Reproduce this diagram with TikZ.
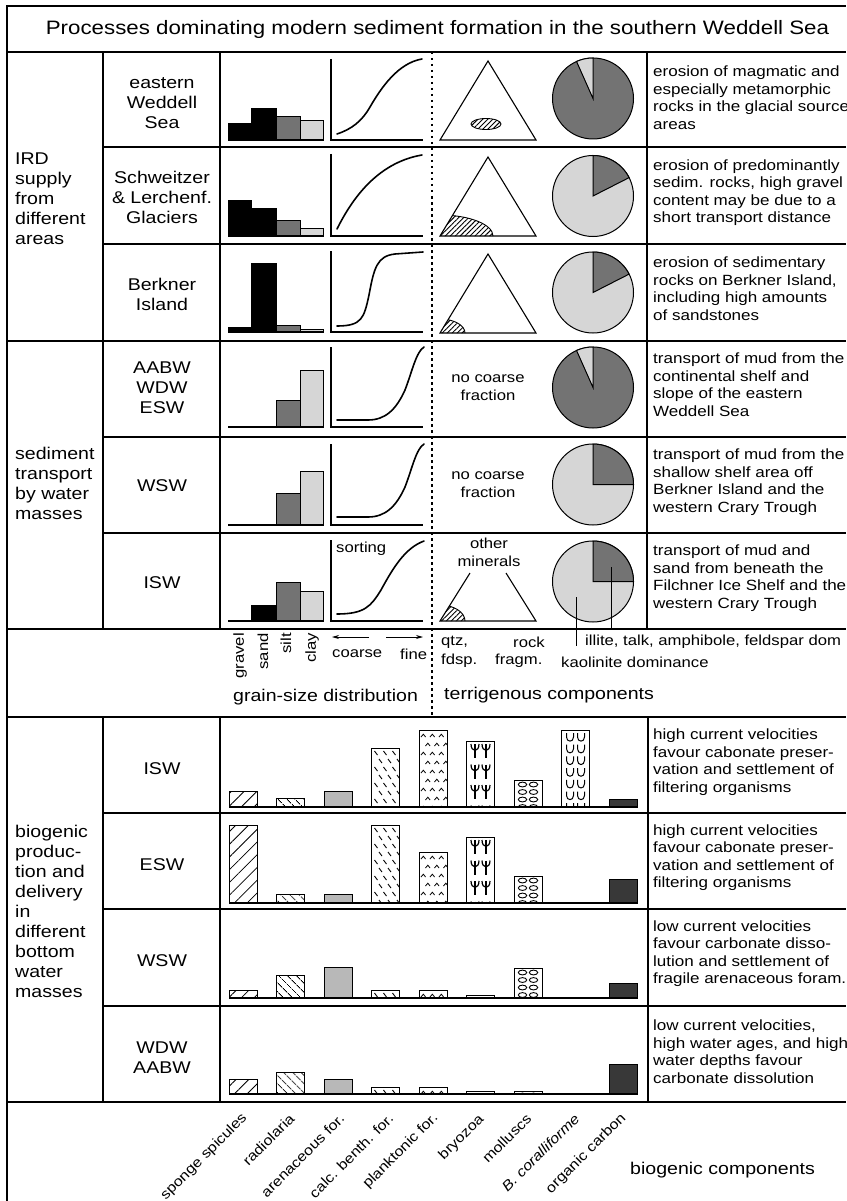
\documentclass[tikz,border=0pt]{standalone}
\usepackage{fontspec}
\setmainfont{Liberation Sans}[FakeStretch=1.15]
\usetikzlibrary{arrows.meta,patterns.meta}
\definecolor{dk}{gray}{0.45}
\definecolor{lt}{gray}{0.84}
\tikzset{
  frame/.style={line width=1.2pt},
  dotline/.style={line width=1.2pt, dash pattern=on 2.5pt off 3.5pt},
  bigtxt/.style={font=\fontsize{17}{20}\selectfont, inner sep=0pt, execute at begin node=\strut, execute at end node=\strut},
  lefttxt/.style={bigtxt, align=left, anchor=west},
  midtxt/.style={bigtxt, align=center},
  smalltxt/.style={font=\fontsize{14.5}{17.5}\selectfont, inner sep=0pt},
  righttxt/.style={font=\fontsize{14.8}{17.5}\selectfont, inner sep=0pt, align=left, anchor=west, execute at begin node=\strut, execute at end node=\strut},
  gsbar/.style={draw, line width=0.9pt},
  curve/.style={line width=1.6pt, line cap=round},
  axisline/.style={line width=1.1pt},
  triline/.style={line width=1.1pt, line join=miter},
  hatchfill/.style={pattern={Lines[angle=45,distance=3.5pt,line width=0.9pt]}},
  pieline/.style={line width=1pt},
  rotlbl/.style={font=\fontsize{14}{17}\selectfont, inner sep=0pt, rotate=45, anchor=east},
}
\newcommand\gsRow[5]{%
  \filldraw[gsbar, fill=black] (228,#2) rectangle (251,#1);
  \filldraw[gsbar, fill=black] (251,#3) rectangle (276,#1);
  \filldraw[gsbar, fill=dk] (276,#4) rectangle (300,#1);
  \filldraw[gsbar, fill=lt] (300,#5) rectangle (323,#1);
  \draw[line width=1.3pt] (228,#1) -- (323,#1);
}
\newcommand\curveAxes[2]{\draw[axisline] (331,#1) -- (331,#2) -- (423,#2);}
\newcommand\pieBase[3]{\filldraw[pieline, fill=#3] (#1,#2) circle[radius=40.5pt];}
\newcommand\pieWedge[5]{%
  \filldraw[pieline, fill=#5] (#1,#2) -- plot[domain=#3:#4, samples=20] ({#1+40.5*cos(\x)},{#2-40.5*sin(\x)}) -- cycle;}
\newcommand\bioBar[4]{%
  \begin{scope}
  \clip (#2,#3) rectangle (#2+28,#4);
  \ifcase#1\relax
    \fill[pattern={Lines[angle=45,distance=9pt,line width=0.8pt]}] (#2,#3) rectangle (#2+28,#4);
  \or
    \fill[pattern={Lines[angle=-45,distance=6.5pt,line width=0.9pt]}] (#2,#3) rectangle (#2+28,#4);
  \or
    \fill[black!28] (#2,#3) rectangle (#2+28,#4);
  \or
    \foreach \j in {0,...,10} {\foreach \k in {0,1,2} {
      \draw[line width=0.9pt] ({#2+3+9*\k+4.5*mod(\j,2)},{#3+3+8*\j}) -- ++(3,4);}}
  \or
    \foreach \j in {0,...,9} {\foreach \k in {0,1,2} {
      \draw[line width=0.8pt] ({#2+2+9*\k+4.5*mod(\j,2)},{#3+7+9*\j}) -- ++(2.3,-2.8) -- ++(2.3,2.8);}}
  \or
    \foreach \j in {0,...,4} {\foreach \k in {0,1} {
      \pgfmathsetmacro\cx{#2+8.5+11*\k}\pgfmathsetmacro\cy{#3+3+20.5*\j}
      \draw[line width=1.2pt] (\cx-4,\cy) .. controls (\cx-4,\cy+8.5) and (\cx+4,\cy+8.5) .. (\cx+4,\cy);
      \draw[line width=1.2pt] (\cx,\cy) -- (\cx,\cy+14);}}
  \or
    \foreach \j in {0,...,5} {\foreach \k in {0,1} {
      \draw[line width=0.9pt] ({#2+8.5+11*\k},{#3+4.5+7.5*\j}) ellipse[x radius=4.2pt, y radius=2.4pt];}}
  \or
    \foreach \j in {0,...,7} {\foreach \k in {0,1} {
      \pgfmathsetmacro\cx{#2+8.5+11*\k}\pgfmathsetmacro\cy{#3+3+11.7*\j}
      \draw[line width=1pt] (\cx-3.5,\cy) -- (\cx-3.5,\cy+4) .. controls (\cx-3.5,\cy+9.5) and (\cx+3.5,\cy+9.5) .. (\cx+3.5,\cy+4) -- (\cx+3.5,\cy);}}
  \or
    \fill[black!78] (#2,#3) rectangle (#2+28,#4);
  \fi
  \end{scope}
  \draw[line width=0.9pt] (#2,#3) rectangle (#2+28,#4);
}
\begin{document}
\begin{tikzpicture}[x=1pt,y=-1pt]
\useasboundingbox (0,0) rectangle (846,1201);
\fill[white] (0,0) rectangle (846,1201);

% ---------- frame ----------
\draw[frame] (7,1201) -- (7,6) -- (846,6);
\draw[frame] (7,52) -- (846,52);
\foreach \y in {147,244,437,533,813,909,1006} \draw[frame] (103,\y) -- (846,\y);
\foreach \y in {341,629,717,1102} \draw[frame] (7,\y) -- (846,\y);
\foreach \x in {103,220} {\draw[frame] (\x,52) -- (\x,629); \draw[frame] (\x,717) -- (\x,1102);}
\draw[frame] (647,52) -- (647,629);
\draw[frame] (648,717) -- (648,1102);
\draw[dotline] (432,52) -- (432,717);

% ---------- title ----------
\node[font=\fontsize{19.4}{22}\selectfont, inner sep=0pt] (title) at (437.5,29)
  {Processes dominating modern sediment formation in the southern Weddell Sea};

% ---------- left column ----------
\node[lefttxt] (ird) at (15,201.4) {IRD\\supply\\from\\different\\areas};
\node[lefttxt] (sedtr) at (15,486) {sediment\\transport\\by water\\masses};
\node[lefttxt] (bioprod) at (15,914) {biogenic\\produc-\\tion and\\delivery\\in\\different\\bottom\\water\\masses};

% ---------- middle column ----------
\node[midtxt] (m1) at (162,106) {eastern\\Weddell\\Sea};
\node[midtxt] (m2) at (162,200) {Schweitzer\\\& Lerchenf.\\Glaciers};
\node[midtxt] (m3) at (162,297) {Berkner\\Island};
\node[midtxt] (m4) at (162,391) {AABW\\WDW\\ESW};
\node[midtxt] (m5) at (162,487) {WSW};
\node[midtxt] (m6) at (162,584) {ISW};
\node[midtxt] (b1) at (162,770) {ISW};
\node[midtxt] (b2) at (162,866) {ESW};
\node[midtxt] (b3) at (162,962) {WSW};
\node[midtxt] (b4) at (162,1061) {WDW\\AABW};

% ---------- grain-size bars ----------
\gsRow{140}{123}{108}{116}{120}
\gsRow{236}{200}{208}{220}{228}
\gsRow{332}{327}{263}{325}{329}
\gsRow{427}{427}{427}{400}{370}
\gsRow{525}{525}{525}{493}{471}
\gsRow{621}{621}{605}{582}{591}

% ---------- cumulative curves ----------
\curveAxes{59}{140}
\curveAxes{154}{236}
\curveAxes{251}{332}
\curveAxes{347}{427}
\curveAxes{444}{525}
\curveAxes{540}{621}
\draw[curve] (337,134) .. controls (352,129) and (362,121) .. (370,107) .. controls (381,88) and (398,63) .. (422,59);
\draw[curve] (337,229) .. controls (350,203) and (375,163) .. (422,155);
\draw[curve] (337,326) .. controls (362,326) and (364,318) .. (369,295) .. controls (374,268) and (377,256) .. (395,254) -- (423,252);
\draw[curve] (337,420) -- (368,420) .. controls (385,420) and (396,410) .. (405,390) .. controls (412,372) and (416,352) .. (424,347);
\draw[curve] (337,517) -- (368,517) .. controls (385,517) and (396,507) .. (405,487) .. controls (412,469) and (416,449) .. (424,444);
\draw[curve] (337,614) .. controls (365,614) and (371,606) .. (381,590) .. controls (393,568) and (405,548) .. (424,541);
\node[smalltxt, anchor=west] (sorting) at (336,549) {sorting};

% ---------- triangles ----------
\draw[triline] (440,140) -- (488,61) -- (536,140) -- cycle;
\filldraw[hatchfill, line width=0.9pt] (486,124) ellipse[x radius=15pt, y radius=5.5pt];
\begin{scope}
  \clip (440,236) -- (488,157) -- (536,236) -- cycle;
  \filldraw[hatchfill, line width=0.9pt] (440,236) ellipse[x radius=53pt, y radius=21pt];
\end{scope}
\draw[triline] (440,236) -- (488,157) -- (536,236) -- cycle;
\begin{scope}
  \clip (440,333) -- (488,254) -- (536,333) -- cycle;
  \filldraw[hatchfill, line width=0.9pt] (440,333) ellipse[x radius=25pt, y radius=14pt];
\end{scope}
\draw[triline] (440,333) -- (488,254) -- (536,333) -- cycle;
\node[smalltxt, align=center] (nc1) at (488,387.5) {no coarse\\fraction};
\node[smalltxt, align=center] (nc2) at (488,484.5) {no coarse\\fraction};
\node[smalltxt, align=center] (other) at (489,552.5) {other\\minerals};
\begin{scope}
  \clip (440,621) -- (488,542) -- (536,621) -- cycle;
  \filldraw[hatchfill, line width=0.9pt] (440,621) ellipse[x radius=25pt, y radius=16pt];
\end{scope}
\draw[triline] (470,573) -- (440,621) -- (536,621) -- (506,573);

% ---------- pies ----------
\pieBase{593}{98.5}{dk}  \pieWedge{593}{98.5}{90}{114}{lt}
\pieBase{593}{196}{lt}   \pieWedge{593}{196}{27}{90}{dk}
\pieBase{593}{292.5}{lt} \pieWedge{593}{292.5}{27}{90}{dk}
\pieBase{593}{387.5}{dk} \pieWedge{593}{387.5}{90}{114}{lt}
\pieBase{593}{484.5}{lt} \pieWedge{593}{484.5}{0}{90}{dk}
\pieBase{593}{581.5}{lt} \pieWedge{593}{581.5}{0}{90}{dk}
\coordinate (kaoA) at (576,597);
\coordinate (kaoB) at (576,646);
\coordinate (illA) at (611,567);
\coordinate (illB) at (611,630);
\draw[line width=0.9pt] (kaoA) -- (kaoB);
\draw[line width=0.9pt] (illA) -- (illB);

% ---------- legend row ----------
\node[smalltxt, rotate=90, anchor=east] (lgravel) at (240,633) {gravel};
\node[smalltxt, rotate=90, anchor=east] (lsand) at (263,633) {sand};
\node[smalltxt, rotate=90, anchor=east] (lsilt) at (286,633) {silt};
\node[smalltxt, rotate=90, anchor=east] (lclay) at (312,633) {clay};
\node[smalltxt, anchor=west] (coarse) at (332,654) {coarse};
\node[smalltxt, anchor=west] (fine) at (400,654) {fine};
\coordinate (arL1) at (369,637); \coordinate (arL2) at (332,637);
\coordinate (arR1) at (386,637); \coordinate (arR2) at (423,637);
\draw[line width=0.8pt, -{Stealth[length=7pt,width=4pt]}] (arL1) -- (arL2);
\draw[line width=0.8pt, -{Stealth[length=7pt,width=4pt]}] (arR1) -- (arR2);
\node[smalltxt, anchor=west] (qtz) at (441,642) {qtz,};
\node[smalltxt, anchor=west] (fdsp) at (441,661) {fdsp.};
\node[smalltxt, anchor=west] (rock) at (513,642) {rock};
\node[smalltxt, anchor=west] (fragm) at (495,661) {fragm.};
\node[smalltxt, anchor=west] (illite) at (585,642) {illite, talk, amphibole, feldspar dom};
\node[smalltxt, anchor=west] (kaol) at (561,662) {kaolinite dominance};
\node[bigtxt, anchor=west] (gsd) at (233,697) {grain-size distribution};
\node[bigtxt, anchor=west] (terr) at (444,695) {terrigenous components};

% ---------- right column ----------
\node[righttxt] (r1) at (653,100.5) {erosion of magmatic and\\especially metamorphic\\rocks in the glacial source\\areas};
\node[righttxt] (r2) at (653,194) {erosion of predominantly\\sedim. rocks, high gravel\\content may be due to a\\short transport distance};
\node[righttxt] (r3) at (653,291.5) {erosion of sedimentary\\rocks on Berkner Island,\\including high amounts\\of sandstones};
\node[righttxt] (r4) at (653,387.5) {transport of mud from the\\continental shelf and\\slope of the eastern\\Weddell Sea};
\node[righttxt] (r5) at (653,483.5) {transport of mud from the\\shallow shelf area off\\Berkner Island and the\\western Crary Trough};
\node[righttxt] (r6) at (653,579.5) {transport of mud and\\sand from beneath the\\Filchner Ice Shelf and the\\western Crary Trough};
\node[righttxt] (rb1) at (653,763.5) {high current velocities\\favour cabonate preser-\\vation and settlement of\\filtering organisms};
\node[righttxt] (rb2) at (653,859) {high current velocities\\favour cabonate preser-\\vation and settlement of\\filtering organisms};
\node[righttxt] (rb3) at (653,955) {low current velocities\\favour carbonate disso-\\lution and settlement of\\fragile arenaceous foram.};
\node[righttxt] (rb4) at (653,1054) {low current velocities,\\high water ages, and high\\water depths favour\\carbonate dissolution};

% ---------- biogenic bars ----------
\foreach \base/\hlist in {807/{16,9,16,59,77,66,27,77,8}, 903/{78,9,9,78,51,66,27,0,24}, 998/{8,23,31,8,8,3,30,0,15}, 1094/{15,22,15,7,7,3,3,0,30}} {
  \foreach \h [count=\i from 0] in \hlist {
    \ifnum\h>0
      \pgfmathsetmacro\bx{229+47.5*\i}
      \pgfmathsetmacro\bt{\base-\h}
      \bioBar{\i}{\bx}{\bt}{\base}
    \fi
  }
  \draw[line width=1.3pt] (229,\base) -- (638,\base);
}

% ---------- bottom labels ----------
\node[rotlbl] (l1) at (245,1116) {sponge spicules};
\node[rotlbl] (l2) at (292,1116) {radiolaria};
\node[rotlbl] (l3) at (342,1116) {arenaceous for.};
\node[rotlbl] (l4) at (391,1116) {calc. benth. for.};
\node[rotlbl] (l5) at (436,1116) {planktonic for.};
\node[rotlbl] (l6) at (482,1117) {bryozoa};
\node[rotlbl] (l7) at (529,1116) {molluscs};
\node[rotlbl] (l8) at (577,1116) {\itshape B. coralliforme};
\node[rotlbl] (l9) at (624,1116) {organic carbon};
\node[bigtxt, anchor=west] (biocomp) at (630,1170) {biogenic components};
\end{tikzpicture}
\end{document}
